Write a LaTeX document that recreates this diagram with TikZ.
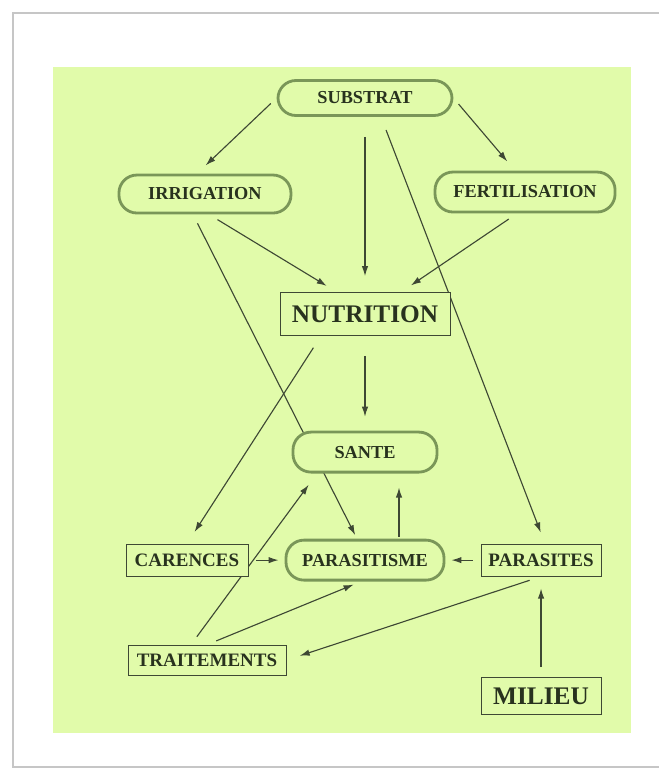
\documentclass[tikz,border=0pt]{standalone}
\usepackage{fontspec}
\setmainfont{Liberation Serif}
\usepackage{tikz}
\usetikzlibrary{positioning}
\usetikzlibrary{arrows.meta}
\usetikzlibrary{backgrounds}
\definecolor{pagegreen}{RGB}{225,251,170}
\definecolor{ringgreen}{RGB}{122,150,88}
\definecolor{inkdark}{RGB}{40,50,30}
\definecolor{linegrey}{RGB}{62,72,52}

\begin{document}
\begin{tikzpicture}[
    x=0.025cm, y=-0.025cm,
    on grid,
    rbox/.style={draw=ringgreen, line width=2pt, rounded corners=0.45cm, fill=pagegreen, text=inkdark,
        font=\bfseries\fontsize{13}{15}\selectfont, minimum height=0.95cm},
    sbox/.style={draw=linegrey, line width=0.6pt, fill=pagegreen, text=inkdark,
        font=\bfseries\fontsize{13.5}{15}\selectfont, minimum height=0.8cm},
    bigbox/.style={sbox, font=\bfseries\fontsize{18}{20}\selectfont},
    arrow/.style={-{Latex[length=2.5mm,width=1.6mm]}, line width=0.8pt, draw=linegrey,
        shorten <=0.2cm, shorten >=0.3cm}
]
    \useasboundingbox (0,0) rectangle (658,769);
    % Page card and green panel
    \begin{scope}[on background layer]
        \draw[gray!45, line width=1.2pt, fill=white] (13,13) rectangle (690,767);
        \fill[pagegreen] (53,67) rectangle (631,733);
    \end{scope}

    % Top row
    \node[rbox, minimum width=4.35cm, minimum height=0.875cm] (sub) at (365,98) {SUBSTRAT};
    \node[rbox, minimum width=4.3cm, below left=2.4cm and 4cm of sub] (irr) {IRRIGATION};
    \node[rbox, minimum width=4.5cm, minimum height=1cm, below right=2.35cm and 4cm of sub] (fer) {FERTILISATION};

    % Middle column
    \node[bigbox, minimum width=4.25cm, minimum height=1.075cm, below=5.4cm of sub] (nut) {NUTRITION};
    \node[rbox, minimum width=3.6cm, minimum height=1cm, below=3.45cm of nut] (san) {SANTE};
    \node[rbox, minimum width=3.95cm, minimum height=1cm, below=2.7cm of san] (par) {PARASITISME};

    % Bottom row
    \node[sbox, minimum width=3.05cm, left=4.45cm of par] (car) {CARENCES};
    \node[sbox, minimum width=3cm, right=4.4cm of par] (pst) {PARASITES};
    \node[sbox, minimum width=3.95cm, minimum height=0.75cm, below right=2.5cm and 0.5cm of car] (trt) {TRAITEMENTS};
    \node[bigbox, minimum width=3cm, minimum height=0.93cm, below=3.4cm of pst] (mil) {MILIEU};

    % Connectors
    \begin{scope}[on background layer]
        \draw[arrow] (sub.west) -- ([xshift=-0.2cm]irr.north);
        \draw[arrow] (sub.east) -- ([xshift=-0.25cm]fer.north);
        \draw[arrow, shorten <=0.5cm, shorten >=0.4cm] (sub.south) -- (sub.south |- nut.north);
        \draw[arrow, shorten <=0.35cm] ([xshift=0.4cm]sub.south) -- ([xshift=0.1cm]pst.north);
        \draw[arrow, shorten <=0.25cm] ([xshift=0.1cm]irr.south) -- ([xshift=-0.7cm]nut.north);
        \draw[arrow, shorten <=0.25cm] ([xshift=-0.2cm]fer.south) -- ([xshift=0.9cm]nut.north);
        \draw[arrow, shorten <=0.25cm, shorten >=0.1cm] ([xshift=-0.3cm]irr.south) -- ([xshift=-0.2cm]par.north);
        \draw[arrow, shorten <=0.5cm, shorten >=0.35cm] (nut.south) -- (san.north);
        \draw[arrow, shorten <=0.35cm, shorten >=0.35cm] ([xshift=-1.1cm]nut.south) -- (car.north);
        \draw[arrow, shorten <=0.25cm, shorten >=0.35cm] ([xshift=-0.4cm]trt.north) -- ([xshift=-1.2cm]san.south);
        \draw[arrow, shorten <=0.25cm, shorten >=0.2cm] (trt.north) -- ([xshift=-0.1cm]par.south);
        \draw[arrow, shorten <=0.05cm, shorten >=0.35cm] ([xshift=0.85cm]par.north) -- ([xshift=0.85cm]par.north |- san.south);
        \draw[arrow, shorten >=0.15cm] (car.east) -- (par.west);
        \draw[arrow, shorten >=0.15cm] (pst.west) -- (par.east);
        \draw[arrow, shorten <=0.3cm, shorten >=0.35cm] (pst.south) -- (trt.east);
        \draw[arrow, shorten <=0.25cm, shorten >=0.3cm] (pst.south |- mil.north) -- (pst.south);
    \end{scope}
\end{tikzpicture}
\end{document}
